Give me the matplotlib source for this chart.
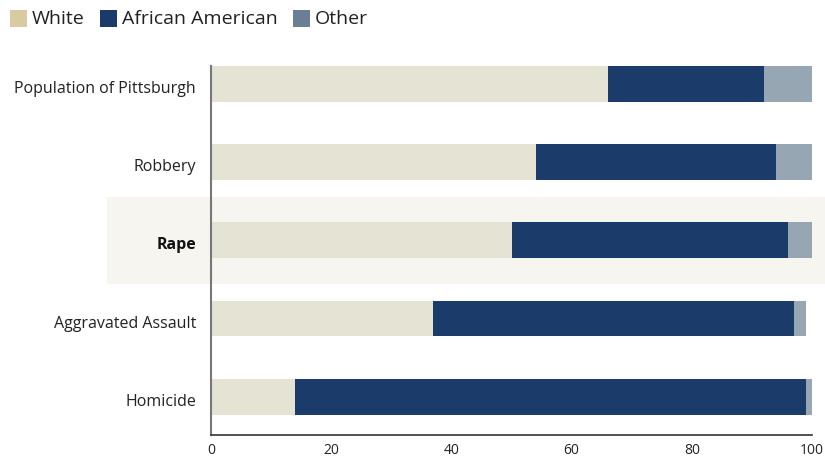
import matplotlib
matplotlib.use("Agg")
import numpy as np
from matplotlib import pyplot as plt
from matplotlib.patches import Rectangle
import matplotlib.transforms as mtransforms

plt.rcParams['font.family'] = ['Open Sans', 'DejaVu Sans']

categories = ["Population of Pittsburgh", "Robbery", "Rape", "Aggravated Assault", "Homicide"]
white = [66, 54, 50, 37, 14]
african_american = [26, 40, 46, 60, 85]
other = [8, 6, 4, 2, 1]
highlight = "Rape"
ticks = [0, 20, 40, 60, 80, 100]

bar_colors = ["#e5e3d3", "#1b3b6b", "#97a6b3"]
legend_colors = ["#d8cba1", "#1b3a6b", "#6a7f96"]
series_names = ["White", "African American", "Other"]

W, H = 825, 458
fig = plt.figure(figsize=(W / 100, H / 100), dpi=100)
ax = fig.add_axes([211 / W, 1 - 435 / H, 601 / W, 369 / H])

y = np.arange(len(categories))[::-1]
h = 0.46

left = np.zeros(len(categories))
for vals, col in zip([white, african_american, other], bar_colors):
    ax.barh(y, vals, left=left, height=h, color=col, zorder=2)
    left = left + np.array(vals)

# shaded band behind the highlighted row, running out to the figure edge
trans = mtransforms.blended_transform_factory(fig.transFigure, ax.transData)
yi = y[categories.index(highlight)]
band = Rectangle((107 / W, yi - 0.56), 1 - 107 / W, 1.12, transform=trans,
                 facecolor="#f6f5ef", edgecolor="none", zorder=-1, clip_on=False)
fig.patches.append(band)
ax.set_facecolor("none")

ax.set_xlim(0, 100)
ax.set_ylim(-0.49, 4.23)
ax.set_yticks([])

# category names sit a little below the bar centres
label_trans = mtransforms.blended_transform_factory(ax.transAxes, ax.transData) + \
    mtransforms.ScaledTranslation(-15 / 100, -5 / 100, fig.dpi_scale_trans)
for yy, name in zip(y, categories):
    bold = name == highlight
    ax.text(0, yy, name, transform=label_trans, ha="right", va="center",
            fontsize=11.5, fontweight="bold" if bold else "normal",
            color="#111111" if bold else "#222222", clip_on=False)

ax.set_xticks(ticks)
ax.set_xticklabels([str(t) for t in ticks], fontsize=10, color="#222222")
ax.tick_params(axis="both", length=0)
ax.tick_params(axis="x", pad=6)

for side in ["top", "right"]:
    ax.spines[side].set_visible(False)
ax.spines["left"].set_color("#777777")
ax.spines["left"].set_linewidth(1.5)
ax.spines["bottom"].set_color("#333333")
ax.spines["bottom"].set_linewidth(1.2)

# legend row along the top: colour square followed by its name
swatch_x = [10, 100, 293]
for x0, name, col in zip(swatch_x, series_names, legend_colors):
    fig.patches.append(Rectangle((x0 / W, 1 - 27 / H), 17 / W, 17 / H,
                                 transform=fig.transFigure, facecolor=col,
                                 edgecolor="none"))
    fig.text((x0 + 22) / W, 1 - 19 / H, name, fontsize=14, color="#222222",
             ha="left", va="center")

fig.savefig("out.png", dpi=100)
